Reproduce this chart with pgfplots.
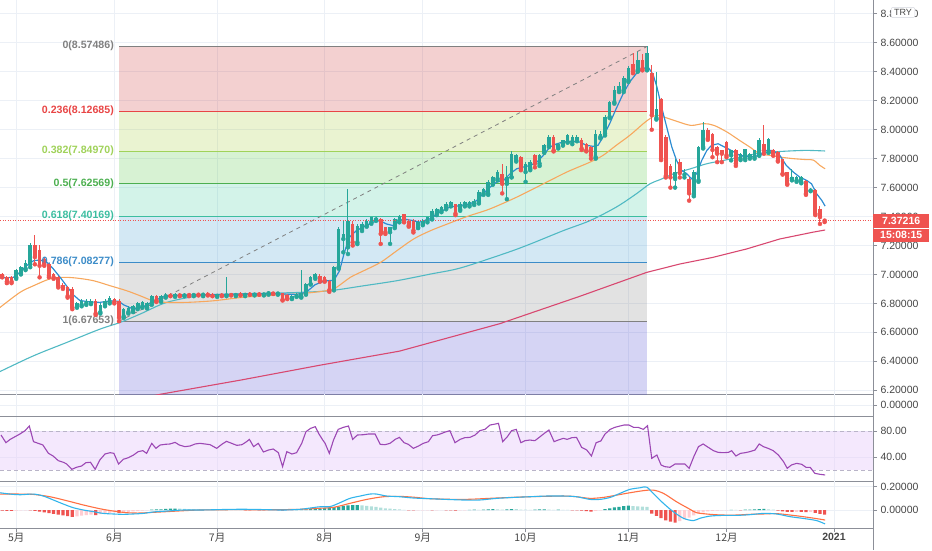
\documentclass[border=0pt]{standalone}
\usepackage{pgfplots}
\pgfplotsset{compat=1.18}
\usepackage{pgfplotstable}
\usepackage{fontspec}
\setmainfont{Liberation Sans}
\newfontfamily\cjk{Noto Sans CJK SC}

\definecolor{cup}{RGB}{38,166,154}
\definecolor{cdown}{RGB}{239,83,80}
\definecolor{gridc}{RGB}{236,240,246}
\definecolor{axisgray}{RGB}{140,143,152}
\definecolor{labelgray}{RGB}{70,70,70}
\definecolor{mablue}{RGB}{45,140,210}
\definecolor{maorange}{RGB}{247,168,94}
\definecolor{mateal}{RGB}{80,185,195}
\definecolor{mapink}{RGB}{216,72,112}
\definecolor{rsipurple}{RGB}{156,72,180}
\definecolor{rsifill}{RGB}{233,209,251}
\definecolor{macdblue}{RGB}{50,180,235}
\definecolor{macdsig}{RGB}{255,112,67}
\definecolor{hg}{RGB}{38,166,154}
\definecolor{hl}{RGB}{178,223,219}
\definecolor{hr}{RGB}{239,83,80}
\definecolor{hp}{RGB}{255,205,210}
\definecolor{pricered}{RGB}{239,83,80}
\definecolor{fa}{RGB}{207,67,67}
\definecolor{fb}{RGB}{171,207,71}
\definecolor{fc}{RGB}{95,203,79}
\definecolor{fd}{RGB}{79,207,167}
\definecolor{fe}{RGB}{79,163,211}
\definecolor{ff}{RGB}{139,139,139}
\definecolor{fg}{RGB}{87,83,211}
\definecolor{lzero}{RGB}{128,128,128}
\definecolor{la}{RGB}{232,69,69}
\definecolor{lb}{RGB}{160,210,90}
\definecolor{lc}{RGB}{76,175,80}
\definecolor{ld}{RGB}{60,190,160}
\definecolor{le}{RGB}{60,140,200}

% ---------- candles (i open high low close) ----------
\pgfplotstableread{
i o h l c
0 6.98 7.04 6.97 7.03
1 7.01 7.06 7.00 7.05
2 7.04 7.10 7.03 7.08
3 7.07 7.22 7.05 7.20
13 6.78 6.81 6.77 6.80
14 6.79 6.83 6.78 6.82
15 6.80 6.83 6.79 6.82
16 6.80 6.83 6.795 6.82
18 6.74 6.80 6.73 6.79
19 6.79 6.83 6.78 6.82
20 6.81 6.85 6.80 6.84
23 6.71 6.77 6.70 6.76
24 6.74 6.78 6.73 6.77
25 6.75 6.79 6.74 6.78
26 6.77 6.81 6.76 6.80
27 6.78 6.82 6.77 6.81
28 6.77 6.81 6.765 6.80
29 6.80 6.86 6.79 6.85
31 6.82 6.86 6.81 6.85
32 6.85 6.87 6.84 6.86
34 6.852 6.87 6.845 6.862
36 6.855 6.87 6.85 6.865
38 6.858 6.87 6.85 6.866
40 6.86 6.872 6.85 6.868
43 6.852 6.868 6.845 6.862
45 6.855 6.98 6.85 6.865
47 6.858 6.87 6.85 6.866
49 6.859 6.872 6.85 6.868
51 6.861 6.875 6.855 6.87
53 6.862 6.875 6.855 6.87
54 6.87 6.885 6.86 6.876
56 6.868 6.878 6.86 6.874
59 6.835 6.86 6.83 6.852
60 6.85 6.87 6.845 6.862
61 6.846 7.033 6.84 6.869
62 6.865 6.94 6.86 6.934
63 6.934 6.99 6.93 6.98
64 6.98 7.01 6.97 7.003
68 6.90 7.06 6.89 7.05
69 7.05 7.33 7.04 7.315
70 7.245 7.372 7.153 7.28
71 7.187 7.592 7.141 7.372
73 7.222 7.35 7.21 7.338
74 7.315 7.36 7.30 7.349
75 7.338 7.38 7.33 7.372
76 7.361 7.40 7.35 7.395
77 7.38 7.395 7.37 7.388
80 7.292 7.33 7.211 7.326
81 7.326 7.39 7.32 7.384
82 7.372 7.41 7.36 7.407
86 7.326 7.37 7.32 7.361
87 7.349 7.38 7.34 7.372
88 7.372 7.40 7.36 7.395
89 7.384 7.45 7.38 7.441
90 7.418 7.46 7.41 7.453
91 7.441 7.47 7.43 7.465
92 7.46 7.50 7.45 7.488
93 7.476 7.51 7.47 7.50
95 7.45 7.50 7.44 7.49
96 7.476 7.51 7.47 7.50
97 7.48 7.51 7.47 7.50
98 7.49 7.52 7.48 7.51
99 7.50 7.58 7.49 7.57
100 7.56 7.60 7.55 7.59
101 7.557 7.65 7.55 7.638
102 7.626 7.68 7.62 7.672
103 7.661 7.72 7.65 7.707
105 7.626 7.75 7.52 7.672
106 7.672 7.85 7.67 7.834
107 7.788 7.83 7.78 7.822
109 7.707 7.78 7.64 7.765
110 7.73 7.79 7.72 7.776
112 7.765 7.83 7.75 7.822
113 7.845 7.90 7.84 7.892
114 7.892 7.96 7.88 7.95
116 7.88 7.91 7.87 7.903
117 7.903 7.93 7.89 7.926
118 7.915 7.97 7.91 7.961
119 7.915 7.96 7.90 7.95
120 7.926 7.96 7.92 7.95
124 7.81 8.00 7.80 7.973
125 7.95 7.99 7.94 7.973
126 7.973 8.10 7.96 8.088
127 8.088 8.20 8.08 8.19
128 8.19 8.30 8.18 8.273
129 8.27 8.33 8.26 8.30
130 8.273 8.37 8.26 8.354
131 8.342 8.44 8.33 8.423
133 8.411 8.54 8.40 8.48
135 8.423 8.575 8.41 8.527
137 8.08 8.40 8.07 8.14
141 7.66 7.80 7.60 7.71
143 7.69 7.73 7.67 7.70
145 7.55 7.72 7.54 7.71
146 7.65 7.89 7.64 7.88
147 7.88 8.05 7.87 8.00
153 7.823 7.86 7.788 7.857
155 7.80 7.84 7.79 7.834
156 7.80 7.87 7.79 7.869
157 7.81 7.84 7.80 7.834
158 7.811 7.86 7.80 7.857
159 7.823 7.94 7.82 7.926
161 7.846 7.94 7.84 7.938
166 7.661 7.73 7.65 7.672
167 7.649 7.68 7.64 7.672
168 7.638 7.68 7.63 7.672
170 7.580 7.60 7.575 7.592
}\up

\pgfplotstableread{
i o h l c
-3 7.00 7.01 6.98 6.99
-2 6.98 6.99 6.94 6.95
-1 6.98 6.99 6.94 6.95
4 7.20 7.27 7.07 7.12
5 7.17 7.20 6.98 7.06
6 7.11 7.12 7.06 7.07
7 7.07 7.08 6.98 6.99
8 7.00 7.01 6.97 6.98
9 6.98 6.99 6.91 6.92
10 6.93 6.94 6.90 6.91
11 6.91 6.92 6.84 6.85
12 6.90 6.91 6.76 6.77
17 6.82 6.83 6.72 6.73
21 6.83 6.84 6.80 6.81
22 6.82 6.83 6.677 6.70
30 6.85 6.86 6.81 6.82
33 6.86 6.87 6.85 6.852
35 6.862 6.872 6.85 6.855
37 6.865 6.875 6.85 6.858
39 6.866 6.875 6.855 6.86
41 6.868 6.88 6.855 6.86
42 6.86 6.87 6.85 6.852
44 6.862 6.87 6.85 6.855
46 6.865 6.875 6.855 6.858
48 6.866 6.876 6.855 6.859
50 6.868 6.88 6.86 6.861
52 6.87 6.88 6.86 6.862
55 6.876 6.882 6.865 6.868
57 6.87 6.872 6.82 6.825
58 6.86 6.865 6.83 6.835
65 6.99 7.00 6.95 6.957
66 6.98 6.99 6.95 6.957
67 6.957 6.96 6.88 6.892
72 7.349 7.37 7.20 7.222
78 7.384 7.39 7.211 7.28
79 7.326 7.33 7.28 7.292
83 7.418 7.42 7.36 7.372
84 7.372 7.38 7.33 7.338
85 7.372 7.38 7.29 7.303
94 7.488 7.49 7.41 7.42
104 7.695 7.76 7.56 7.626
108 7.811 7.82 7.72 7.730
111 7.822 7.83 7.74 7.765
115 7.95 7.96 7.85 7.857
121 7.926 7.94 7.86 7.869
122 7.903 7.91 7.85 7.857
123 7.88 7.89 7.80 7.823
132 8.457 8.53 8.39 8.40
134 8.48 8.52 8.41 8.42
136 8.39 8.45 8.00 8.10
138 8.21 8.22 7.79 7.80
139 7.95 7.96 7.67 7.68
140 7.75 7.76 7.60 7.67
142 7.78 7.80 7.67 7.70
144 7.66 7.67 7.51 7.56
148 8.00 8.01 7.93 7.94
149 7.97 7.98 7.81 7.86
150 7.88 7.89 7.776 7.834
151 7.857 7.86 7.776 7.834
152 7.915 7.92 7.81 7.823
154 7.857 7.87 7.75 7.765
160 7.903 8.03 7.834 7.857
162 7.857 7.87 7.82 7.834
163 7.846 7.85 7.78 7.788
164 7.80 7.80 7.69 7.696
165 7.707 7.71 7.62 7.626
169 7.649 7.65 7.55 7.557
171 7.580 7.59 7.41 7.419
172 7.453 7.476 7.349 7.396
173 7.384 7.386 7.362 7.372
}\down

% ---------- RSI ----------
\pgfplotstableread{
i v
-3.25 74.3
-2.2 62.5
-1.3 67.6
-0.26 71.7
0.8 75.9
1.9 81.0
2.8 88.2
3.7 64.1
4.7 61.5
5.7 59.0
6.9 46.1
7.9 42.0
9.0 34.8
10.1 32.3
10.8 29.7
11.9 21.5
12.9 24.6
14.0 26.6
14.9 31.7
15.9 32.3
16.9 21.5
17.9 35.9
19.0 45.1
20.1 47.1
20.9 46.1
21.9 29.7
22.9 36.9
24.0 39.4
25.1 43.5
26.1 48.7
27.1 50.2
27.9 46.1
29.0 61.5
29.9 53.8
30.8 58.9
31.9 60.0
32.9 60.5
34.0 63.0
34.9 58.9
36.1 56.4
37.2 57.4
38.3 60.5
39.3 61.5
40.4 60.5
41.5 59.4
42.9 53.8
44.0 60.0
45.0 64.6
46.1 61.5
47.2 58.4
48.3 59.4
49.3 64.1
49.9 67.6
50.8 56.4
51.8 61.5
52.9 48.2
54.0 51.2
55.0 52.8
56.1 47.1
57.0 25.6
57.9 48.7
59.0 45.1
60.0 47.1
61.1 61.5
62.0 79.4
63.0 84.6
64.0 87.1
64.7 76.9
65.6 66.6
66.1 61.5
67.0 46.1
67.9 66.6
68.9 83.0
70.0 86.1
71.1 88.2
72.0 67.6
73.0 74.3
74.3 74.8
75.4 75.9
76.8 75.9
77.9 59.9
78.9 59.4
80.0 61.5
81.1 67.6
82.0 70.7
83.0 62.5
83.9 60.0
85.0 53.8
86.1 57.4
87.1 61.5
88.2 64.0
89.1 73.3
90.0 74.3
90.7 75.8
91.8 78.9
92.8 81.0
93.9 62.5
95.0 67.6
96.0 70.2
97.1 70.7
98.2 74.3
99.2 81.0
100.3 83.0
101.4 89.7
102.5 91.2
103.2 92.3
104.1 64.1
105.1 71.7
106.0 81.0
107.0 83.0
108.0 62.5
108.9 65.6
109.9 66.6
111.0 65.6
112.1 71.7
113.2 77.9
114.0 82.0
115.1 64.1
116.0 66.6
117.1 69.2
117.9 67.6
118.9 70.2
119.9 70.7
121.0 55.3
122.1 51.2
123.1 42.0
124.1 62.5
125.1 65.1
126.0 75.8
127.1 83.0
128.1 86.1
129.2 88.2
130.1 89.7
131.1 89.7
132.1 86.1
133.1 86.1
134.2 83.0
135.1 88.7
136.0 38.4
137.1 43.5
138.0 28.2
138.8 25.6
139.9 24.6
141.0 29.7
142.1 29.7
143.1 29.7
144.0 23.0
145.0 41.0
146.0 56.4
147.0 60.5
148.1 55.3
149.2 50.2
150.2 47.6
151.3 47.1
152.4 47.6
153.1 50.2
154.0 42.0
155.0 46.1
156.0 47.1
157.0 48.7
158.1 51.2
159.0 60.5
159.9 56.4
160.9 53.8
162.0 50.2
163.1 43.5
164.2 33.3
165.0 23.0
165.9 28.2
167.0 30.7
168.1 29.2
169.0 24.6
169.9 24.6
170.9 15.3
172.0 13.8
173.1 12.8
}\rsi

% ---------- MACD line and signal ----------
\pgfplotstableread{
i v
-3.47 0.148
-1.33 0.137
0.81 0.131
3.66 0.137
5.81 0.120
7.95 0.086
10.1 0.051
12.2 0.020
14.4 0.000
16.5 -0.014
18.6 -0.029
20.8 -0.034
22.9 -0.037
25.1 -0.034
27.2 -0.029
29.3 -0.017
32.2 -0.009
35.8 0.000
39.3 0.000
42.9 0.003
46.5 0.006
50.0 0.006
53.6 0.003
57.2 0.000
60.7 0.006
62.9 0.017
65.0 0.028
67.2 0.030
69.3 0.063
71.4 0.100
73.6 0.120
75.7 0.137
77.1 0.137
79.3 0.120
82.1 0.114
85.0 0.103
88.55 0.097
92.1 0.091
95.7 0.086
99.2 0.086
102.8 0.100
106.4 0.108
109.9 0.114
113.5 0.120
117.1 0.120
119.9 0.114
122.8 0.091
124.9 0.091
127.1 0.108
129.2 0.143
131.3 0.177
133.5 0.191
134.9 0.197
136.3 0.143
138.5 0.057
140.6 -0.014
142.8 -0.071
144.9 -0.091
146.3 -0.071
148.5 -0.052
151.3 -0.046
154.2 -0.046
157.0 -0.040
159.9 -0.029
162.7 -0.034
165.6 -0.057
168.4 -0.072
171.3 -0.091
173.1 -0.120
}\macd

\pgfplotstableread{
i v
-3.47 0.137
0.81 0.137
3.66 0.134
7.23 0.114
10.8 0.080
14.4 0.043
17.9 0.011
20.8 -0.009
23.6 -0.023
26.5 -0.026
29.3 -0.020
32.2 -0.014
35.8 -0.006
39.3 0.000
46.5 0.003
53.6 0.002
60.7 0.006
64.3 0.014
67.9 0.023
71.4 0.057
75.0 0.091
78.6 0.114
82.1 0.117
85.7 0.108
88.55 0.097
95.7 0.091
102.8 0.103
109.9 0.114
117.1 0.120
119.9 0.114
122.8 0.100
125.6 0.108
128.5 0.128
131.3 0.148
134.2 0.166
136.3 0.171
138.5 0.143
141.3 0.071
144.2 0.006
145.6 -0.023
148.5 -0.037
151.3 -0.043
154.2 -0.043
157.0 -0.037
159.9 -0.034
162.7 -0.031
165.6 -0.043
168.4 -0.057
171.3 -0.074
173.1 -0.086
}\signal

% ---------- histogram, split by colour ----------
\pgfplotstableread{
i v
29 0.003
30 0.005
31 0.006
32 0.009
33 0.012
34 0.013
43 0.003
45 0.004
60 0.002
61 0.004
62 0.005
63 0.007
64 0.009
65 0.012
66 0.016
67 0.020
68 0.025
69 0.030
70 0.035
71 0.040
72 0.042
73 0.043
97 0.002
98 0.003
100 0.004
101 0.006
102 0.008
105 0.005
106 0.008
111 0.003
112 0.005
113 0.006
116 0.003
126 0.008
127 0.015
128 0.022
129 0.028
130 0.033
131 0.037
153 0.002
156 0.003
157 0.004
158 0.006
159 0.008
160 0.009
}\hgt

\pgfplotstableread{
i v
35 0.011
36 0.009
37 0.007
38 0.006
39 0.005
40 0.004
41 0.003
42 0.002
44 0.002
46 0.003
47 0.002
48 0.001
74 0.040
75 0.036
76 0.032
77 0.027
78 0.021
79 0.015
80 0.011
81 0.008
82 0.005
83 0.002
99 0.002
103 0.006
104 0.004
107 0.007
108 0.004
109 0.003
110 0.002
114 0.004
115 0.002
117 0.002
118 0.001
132 0.034
133 0.032
134 0.030
135 0.026
154 0.001
161 0.006
162 0.004
}\hlt

\pgfplotstableread{
i v
-3 -0.006
-2 -0.007
-1 -0.008
3 -0.004
4 -0.008
5 -0.014
6 -0.020
7 -0.027
8 -0.034
9 -0.040
10 -0.046
11 -0.052
12 -0.058
17 -0.043
22 -0.024
49 -0.002
50 -0.003
52 -0.003
53 -0.004
56 -0.003
57 -0.006
84 -0.003
85 -0.004
89 -0.003
92 -0.003
93 -0.004
94 -0.005
119 -0.002
120 -0.003
121 -0.006
122 -0.010
123 -0.013
136 -0.030
137 -0.050
138 -0.070
139 -0.088
140 -0.100
141 -0.108
155 -0.002
163 -0.006
164 -0.012
165 -0.016
166 -0.016
168 -0.016
169 -0.018
171 -0.025
172 -0.034
173 -0.040
}\hrt

\pgfplotstableread{
i v
0 -0.006
1 -0.004
2 -0.003
13 -0.054
14 -0.048
15 -0.044
16 -0.040
18 -0.036
19 -0.030
20 -0.025
21 -0.020
23 -0.019
24 -0.015
25 -0.012
26 -0.009
27 -0.006
28 -0.004
51 -0.002
54 -0.003
55 -0.002
58 -0.005
59 -0.003
86 -0.003
87 -0.002
88 -0.002
90 -0.002
91 -0.001
95 -0.004
96 -0.002
124 -0.008
125 -0.003
142 -0.095
143 -0.080
144 -0.065
145 -0.045
146 -0.030
147 -0.020
148 -0.012
149 -0.008
150 -0.005
151 -0.003
152 -0.002
167 -0.015
170 -0.017
}\hpt

\pgfplotsset{
  panel/.style={
    scale only axis, width=873pt, xmin=-3.47, xmax=183.35,
    anchor=north west,
    axis x line*=bottom, axis y line*=right,
    axis line style={draw=axisgray, line width=0.9pt},
    xtick={0,21,43,66,87,109,131,152,175},
    xmajorgrids, ymajorgrids,
    grid style={draw=gridc, line width=0.9pt},
    tick align=outside, major tick length=4pt,
    tick style={draw=axisgray, line width=0.8pt},
    /pgf/number format/assume math mode=true,
    yticklabel style={font=\fontsize{10.5}{12}\selectfont, text=labelgray, anchor=west},
    xticklabel style={font=\fontsize{10.5}{12}\selectfont, text=labelgray},
  },
  upper/.style={xticklabels={}, x tick style={draw=none}},
}

\begin{document}
\begin{tikzpicture}
\useasboundingbox (0,0) rectangle (932pt,-550pt);

% ================= main price panel =================
\begin{axis}[panel, upper, at={(0pt,0pt)}, height=394pt,
  ymin=6.174, ymax=8.896,
  ytick={6.2,6.4,6.6,6.8,7.0,7.2,7.4,7.6,7.8,8.0,8.2,8.4,8.6,8.8},
  yticklabel={\pgfmathprintnumber[fixed,fixed zerofill,precision=5]{\tick}}]

% fib fills
\addplot[draw=none, fill=fa, fill opacity=0.25] coordinates {(22,8.57486)(135,8.57486)(135,8.12685)(22,8.12685)} --cycle;
\addplot[draw=none, fill=fb, fill opacity=0.25] coordinates {(22,8.12685)(135,8.12685)(135,7.84970)(22,7.84970)} --cycle;
\addplot[draw=none, fill=fc, fill opacity=0.25] coordinates {(22,7.84970)(135,7.84970)(135,7.62569)(22,7.62569)} --cycle;
\addplot[draw=none, fill=fd, fill opacity=0.25] coordinates {(22,7.62569)(135,7.62569)(135,7.40169)(22,7.40169)} --cycle;
\addplot[draw=none, fill=fe, fill opacity=0.25] coordinates {(22,7.40169)(135,7.40169)(135,7.08277)(22,7.08277)} --cycle;
\addplot[draw=none, fill=ff, fill opacity=0.25] coordinates {(22,7.08277)(135,7.08277)(135,6.67653)(22,6.67653)} --cycle;
\addplot[draw=none, fill=fg, fill opacity=0.25] coordinates {(22,6.67653)(135,6.67653)(135,5.50300)(22,5.50300)} --cycle;
% fib lines
\addplot[lzero, line width=1pt] coordinates {(22,8.57486)(135,8.57486)};
\addplot[la, line width=1pt] coordinates {(22,8.12685)(135,8.12685)};
\addplot[lb, line width=1pt] coordinates {(22,7.84970)(135,7.84970)};
\addplot[lc, line width=1pt] coordinates {(22,7.62569)(135,7.62569)};
\addplot[ld, line width=1pt] coordinates {(22,7.40169)(135,7.40169)};
\addplot[le, line width=1pt] coordinates {(22,7.08277)(135,7.08277)};
\addplot[lzero, line width=1pt] coordinates {(22,6.67653)(135,6.67653)};
% trend line
\addplot[gray, line width=0.8pt, dash pattern=on 4pt off 4pt] coordinates {(22,6.67653)(135,8.57486)};

% moving averages
\addplot[mapink, line width=1.1pt] coordinates {
(25,6.13)(30.8,6.172)(48,6.27)(65,6.373)(82,6.47)(103.5,6.66)(120.7,6.85)(134.9,7.014)(142,7.072)(149.1,7.118)(156.3,7.176)(163.4,7.245)(170.5,7.292)(173.1,7.307)};
\addplot[mateal, line width=1.1pt, smooth] coordinates {
(-3.47,6.329)(3.7,6.438)(10.8,6.53)(17.9,6.622)(22.2,6.668)(26.5,6.726)(32.2,6.807)(39.3,6.853)(46.5,6.865)(53.6,6.87)(60.7,6.876)(67.2,6.888)(74.4,6.922)(81.5,6.957)(88.7,7.003)(95.1,7.045)(105,7.15)(110,7.21)(117.1,7.303)(122.8,7.372)(128.4,7.465)(132.7,7.557)(135.6,7.626)(137.8,7.655)(140.7,7.696)(144.3,7.73)(147.8,7.765)(151.4,7.788)(154.8,7.811)(158.4,7.834)(161.9,7.846)(165.5,7.853)(169.2,7.857)(173.1,7.853)};
\addplot[maorange, line width=1.1pt, smooth] coordinates {
(-3.47,6.772)(0.8,6.876)(3.7,6.922)(7.2,6.969)(10.1,6.98)(12.9,6.975)(16.5,6.957)(20.1,6.922)(23.6,6.888)(26.5,6.853)(29.3,6.818)(32.2,6.807)(36.5,6.807)(42.2,6.818)(47.9,6.84)(52.9,6.853)(60.1,6.865)(66.5,6.888)(68.5,6.91)(71.5,6.98)(74.4,7.026)(78,7.084)(81.5,7.165)(85.1,7.246)(88.7,7.303)(92.3,7.349)(95.1,7.384)(97.1,7.407)(101.4,7.453)(107.1,7.534)(112.8,7.626)(117.8,7.707)(122.8,7.776)(125.6,7.823)(128.4,7.892)(131.3,7.961)(134.2,8.042)(135.6,8.076)(137.1,8.10)(140.7,8.065)(144.3,8.03)(147.1,8.042)(149.3,8.03)(152.1,7.984)(154.8,7.926)(157,7.88)(159.1,7.834)(161.3,7.823)(163.4,7.811)(166.3,7.80)(169.2,7.793)(170.6,7.79)(172,7.753)(173.1,7.73)};
\addplot[mablue, line width=1.2pt] coordinates {
(-3.47,6.975)(-0.6,6.98)(0.8,7.015)(2.2,7.06)(3.7,7.095)(5.1,7.10)(6.5,7.085)(7.9,7.04)(9.4,6.98)(10.8,6.92)(12.2,6.86)(13.6,6.82)(15.8,6.81)(17.9,6.807)(20.1,6.818)(21.9,6.815)(23,6.79)(25.1,6.76)(27.2,6.777)(29,6.807)(30.8,6.837)(32.2,6.853)(36,6.858)(40,6.86)(45,6.862)(50,6.865)(55,6.867)(60,6.862)(62,6.876)(64,6.93)(66,6.955)(68,6.96)(69.2,7.026)(70.2,7.15)(71.3,7.257)(72.8,7.303)(74.2,7.326)(76.3,7.361)(77.8,7.372)(79.2,7.349)(80.6,7.338)(82.8,7.384)(84.9,7.372)(86.3,7.361)(88.5,7.384)(90.6,7.43)(92.8,7.465)(95,7.476)(97.1,7.488)(98.5,7.51)(99.9,7.557)(101.4,7.603)(102.8,7.638)(104.3,7.65)(105.7,7.696)(107.1,7.73)(108.5,7.742)(110,7.753)(111.4,7.776)(112.8,7.823)(114.2,7.88)(115.7,7.903)(117.1,7.915)(119.2,7.92)(120.6,7.915)(122,7.892)(123.5,7.885)(124.5,7.892)(125.6,7.95)(127,8.042)(128.4,8.146)(129.9,8.25)(131.3,8.33)(132.7,8.388)(134.2,8.423)(135.2,8.434)(136.3,8.38)(137.1,8.296)(138.1,8.157)(139.2,8.019)(140.3,7.88)(141.3,7.788)(142.4,7.719)(143.5,7.696)(144.5,7.661)(145.6,7.696)(146.7,7.788)(147.8,7.857)(148.8,7.892)(150.2,7.903)(151.6,7.88)(153,7.857)(154.8,7.823)(157,7.811)(159.1,7.823)(160.5,7.857)(161.9,7.857)(163.4,7.823)(164.8,7.753)(166.3,7.707)(167.7,7.672)(169.2,7.649)(170.2,7.626)(171.3,7.557)(172.4,7.511)(173.1,7.472)};

% candles: wicks
\addplot[only marks, mark=none, cup, forget plot,
  error bars/.cd, y dir=plus, y explicit, error mark=none,
  error bar style={line width=1pt, cup}]
  table[x=i, y=l, y error plus expr=\thisrow{h}-\thisrow{l}] {\up};
\addplot[only marks, mark=none, cdown, forget plot,
  error bars/.cd, y dir=plus, y explicit, error mark=none,
  error bar style={line width=1pt, cdown}]
  table[x=i, y=l, y error plus expr=\thisrow{h}-\thisrow{l}] {\down};
% candles: bodies
\addplot[only marks, mark=none, cup, forget plot,
  error bars/.cd, y dir=plus, y explicit, error mark=none,
  error bar style={line width=3.6pt, cup}]
  table[x=i, y=o, y error plus expr=\thisrow{c}-\thisrow{o}] {\up};
\addplot[only marks, mark=none, cdown, forget plot,
  error bars/.cd, y dir=plus, y explicit, error mark=none,
  error bar style={line width=3.6pt, cdown}]
  table[x=i, y=c, y error plus expr=\thisrow{o}-\thisrow{c}] {\down};

% current price line
\addplot[pricered, line width=0.9pt, dash pattern=on 1pt off 1.5pt] coordinates {(-3.47,7.37216)(183.35,7.37216)};

% fib labels
\begin{scope}[every node/.style={font=\fontsize{10.6}{12}\selectfont\bfseries, anchor=east, inner sep=0pt}]
\node[text=lzero] at (axis cs:22,8.57486) [xshift=-5pt, yshift=1pt] {0(8.57486)};
\node[text=la] at (axis cs:22,8.12685) [xshift=-5pt, yshift=0.5pt] {0.236(8.12685)};
\node[text=lb] at (axis cs:22,7.84970) [xshift=-5pt, yshift=0.5pt] {0.382(7.84970)};
\node[text=lc] at (axis cs:22,7.62569) [xshift=-5pt, yshift=0.5pt] {0.5(7.62569)};
\node[text=ld] at (axis cs:22,7.40169) [xshift=-5pt, yshift=0.5pt] {0.618(7.40169)};
\node[text=le] at (axis cs:22,7.08277) [xshift=-5pt, yshift=0.5pt] {0.786(7.08277)};
\node[text=lzero] at (axis cs:22,6.67653) [xshift=-5pt, yshift=0.5pt] {1(6.67653)};
\end{scope}
\coordinate (pp) at (axis cs:183.35,7.37216);
\end{axis}

% ================= empty volume panel =================
\begin{axis}[panel, upper, at={(0pt,-394pt)}, height=22.7pt,
  ymin=-1, ymax=1, ytick={0},
  yticklabel={\pgfmathprintnumber[fixed,fixed zerofill,precision=5]{\tick}}]
\addplot[draw=none] coordinates {(0,0)};
\end{axis}

% ================= RSI panel =================
\begin{axis}[panel, upper, at={(0pt,-416.7pt)}, height=64.3pt,
  ymin=3.5, ymax=102.5, ytick={40,80},
  yticklabel={\pgfmathprintnumber[fixed,fixed zerofill,precision=2]{\tick}}]
\addplot[draw=none, fill=rsifill, fill opacity=0.5] coordinates {(-3.47,20)(183.35,20)(183.35,80)(-3.47,80)} --cycle;
\addplot[draw={rgb,255:red,185;green,180;blue,200}, line width=0.9pt, dash pattern=on 4pt off 3pt] coordinates {(-3.47,80)(183.35,80)};
\addplot[draw={rgb,255:red,185;green,180;blue,200}, line width=0.9pt, dash pattern=on 4pt off 3pt] coordinates {(-3.47,20)(183.35,20)};
\addplot[rsipurple, line width=1.1pt] table[x=i, y=v] {\rsi};
\end{axis}

% ================= MACD panel =================
\begin{axis}[panel, at={(0pt,-481pt)}, height=47.3pt,
  ymin=-0.157, ymax=0.249, ytick={0,0.2},
  yticklabel={\pgfmathprintnumber[fixed,fixed zerofill,precision=5]{\tick}},
  xticklabels={{\cjk 5月},{\cjk 6月},{\cjk 7月},{\cjk 8月},{\cjk 9月},{\cjk 10月},{\cjk 11月},{\cjk 12月},\textbf{2021}},
  xticklabel style={yshift=3pt}]
\addplot[ybar, bar width=3.2pt, bar shift=0pt, fill=hg, draw=none] table[x=i, y=v] {\hgt};
\addplot[ybar, bar width=3.2pt, bar shift=0pt, fill=hl, draw=none] table[x=i, y=v] {\hlt};
\addplot[ybar, bar width=3.2pt, bar shift=0pt, fill=hr, draw=none] table[x=i, y=v] {\hrt};
\addplot[ybar, bar width=3.2pt, bar shift=0pt, fill=hp, draw=none] table[x=i, y=v] {\hpt};
\addplot[macdsig, line width=1.1pt, smooth] table[x=i, y=v] {\signal};
\addplot[macdblue, line width=1.1pt, smooth] table[x=i, y=v] {\macd};
\end{axis}

% right axis extension below the plot
\draw[axisgray, line width=0.9pt] (873pt,-528pt) -- (873pt,-550pt);

% price boxes
\node[fill=pricered, text=white, anchor=west, inner sep=0pt, minimum width=56pt, minimum height=14pt,
  font=\fontsize{10.5}{12}\selectfont\bfseries] at ([yshift=0pt]pp) {7.37216};
\node[fill=pricered, text=white, anchor=west, inner sep=0pt, minimum width=56pt, minimum height=13pt,
  font=\fontsize{10.5}{12}\selectfont\bfseries] at ([yshift=-14.5pt]pp) {15:08:15};

% currency badge
\node[draw={rgb,255:red,210;green,212;blue,220}, fill=white, rounded corners=2pt, inner xsep=3pt, inner ysep=2pt,
  text=labelgray, font=\fontsize{9}{10}\selectfont] at (903pt,-12.5pt) {TRY};
\end{tikzpicture}
\end{document}
